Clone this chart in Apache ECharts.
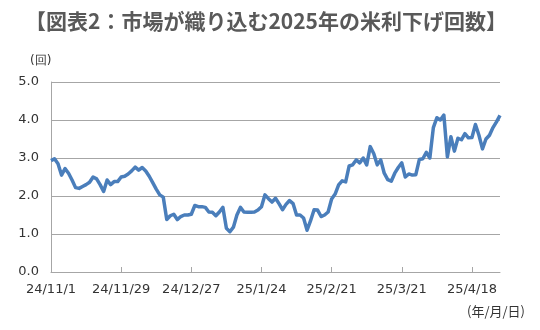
<!DOCTYPE html>
<html>
<head>
<meta charset="utf-8">
<script src="https://cdn.jsdelivr.net/npm/echarts@6/dist/echarts.min.js"></script>
<style>
html,body{margin:0;padding:0;background:#fff;}
#chart{width:540px;height:330px;}
</style>
</head>
<body>
<div id="chart"></div>
<script>
// Chart text
var titleText = '【図表2：市場が織り込む2025年の米利下げ回数】';
var yUnit = '(回)';
var xUnit = '(年/月/日)';

// Business-day calendar: 2024/11/1 .. 2025/4/30 (129 days)
var startDate = [2024, 11, 1];
var dayCount = 129;
function buildDates() {
  var out = [];
  var d = new Date(startDate[0], startDate[1] - 1, startDate[2]);
  while (out.length < dayCount) {
    var w = d.getDay();
    if (w !== 0 && w !== 6) {
      out.push((d.getFullYear() % 100) + '/' + (d.getMonth() + 1) + '/' + d.getDate());
    }
    d.setDate(d.getDate() + 1);
  }
  return out;
}
var categories = buildDates();

// Number of 2025 Fed rate cuts priced in by the market
var cutsPriced = [
  2.93, 2.98, 2.85, 2.55, 2.72, 2.60, 2.42, 2.22, 2.20, 2.25,
  2.30, 2.36, 2.50, 2.45, 2.30, 2.12, 2.42, 2.30, 2.38, 2.38,
  2.50, 2.52, 2.58, 2.66, 2.76, 2.68, 2.75, 2.66, 2.52, 2.35,
  2.18, 2.03, 1.97, 1.38, 1.48, 1.52, 1.38, 1.46, 1.50, 1.50,
  1.52, 1.75, 1.72, 1.72, 1.70, 1.58, 1.57, 1.48, 1.58, 1.70,
  1.15, 1.06, 1.18, 1.50, 1.70, 1.58, 1.57, 1.57, 1.58, 1.63,
  1.72, 2.03, 1.93, 1.84, 1.94, 1.80, 1.64, 1.78, 1.88, 1.80,
  1.50, 1.50, 1.42, 1.10, 1.35, 1.64, 1.63, 1.46, 1.50, 1.58,
  1.92, 2.05, 2.29, 2.40, 2.37, 2.79, 2.82, 2.95, 2.87, 3.00,
  2.82, 3.30, 3.12, 2.82, 2.95, 2.60, 2.43, 2.39, 2.60, 2.75,
  2.87, 2.50, 2.58, 2.55, 2.56, 2.96, 2.98, 3.15, 3.00, 3.80,
  4.06, 4.00, 4.13, 3.03, 3.56, 3.18, 3.52, 3.48, 3.64, 3.53,
  3.54, 3.88, 3.60, 3.24, 3.50, 3.60, 3.80, 3.95, 4.12
];

// Axis settings
var yMin = 0, yMax = 5, yStep = 1;
var labelEvery = 20;

var chart = echarts.init(document.getElementById('chart'), null, {renderer: 'canvas'});
var axisFont = 'DejaVu Sans';
chart.setOption({
  animation: false,
  backgroundColor: '#ffffff',
  title: {
    text: titleText,
    left: 20,
    top: 6,
    textStyle: {
      fontFamily: 'Noto Sans CJK JP',
      fontWeight: 'bold',
      fontSize: 21,
      color: '#595959'
    }
  },
  graphic: [
    {
      type: 'text', left: 30, top: 55,
      style: {text: yUnit, fontFamily: axisFont, fontSize: 12, fill: '#333'}
    },
    {
      type: 'text', right: 15, top: 305,
      style: {text: xUnit, fontFamily: 'Noto Sans CJK JP', fontSize: 13, fill: '#333'}
    }
  ],
  grid: {left: 51, right: 40, top: 82, bottom: 58},
  xAxis: {
    type: 'category',
    data: categories,
    boundaryGap: false,
    axisLine: {show: true, lineStyle: {color: '#a6a6a6', width: 1}},
    axisTick: {
      show: true, inside: true, length: 5,
      interval: function (i) { return i % labelEvery === 0; },
      lineStyle: {color: '#a6a6a6'}
    },
    axisLabel: {
      interval: function (i) { return i % labelEvery === 0; },
      fontFamily: axisFont, fontSize: 13, color: '#333', margin: 11,
      hideOverlap: false
    },
    splitLine: {show: false}
  },
  yAxis: {
    type: 'value',
    min: yMin, max: yMax, interval: yStep,
    axisLine: {show: true, lineStyle: {color: '#a6a6a6', width: 1}},
    axisTick: {show: false},
    axisLabel: {
      fontFamily: axisFont, fontSize: 13, color: '#333', margin: 12,
      formatter: function (v) { return v.toFixed(1); }
    },
    splitLine: {show: true, lineStyle: {color: '#a6a6a6', width: 1}}
  },
  series: [{
    type: 'line',
    data: cutsPriced,
    showSymbol: false,
    symbol: 'none',
    lineStyle: {color: '#4a7ebb', width: 3.5, join: 'round'},
    z: 3
  }]
});
</script>
</body>
</html>
